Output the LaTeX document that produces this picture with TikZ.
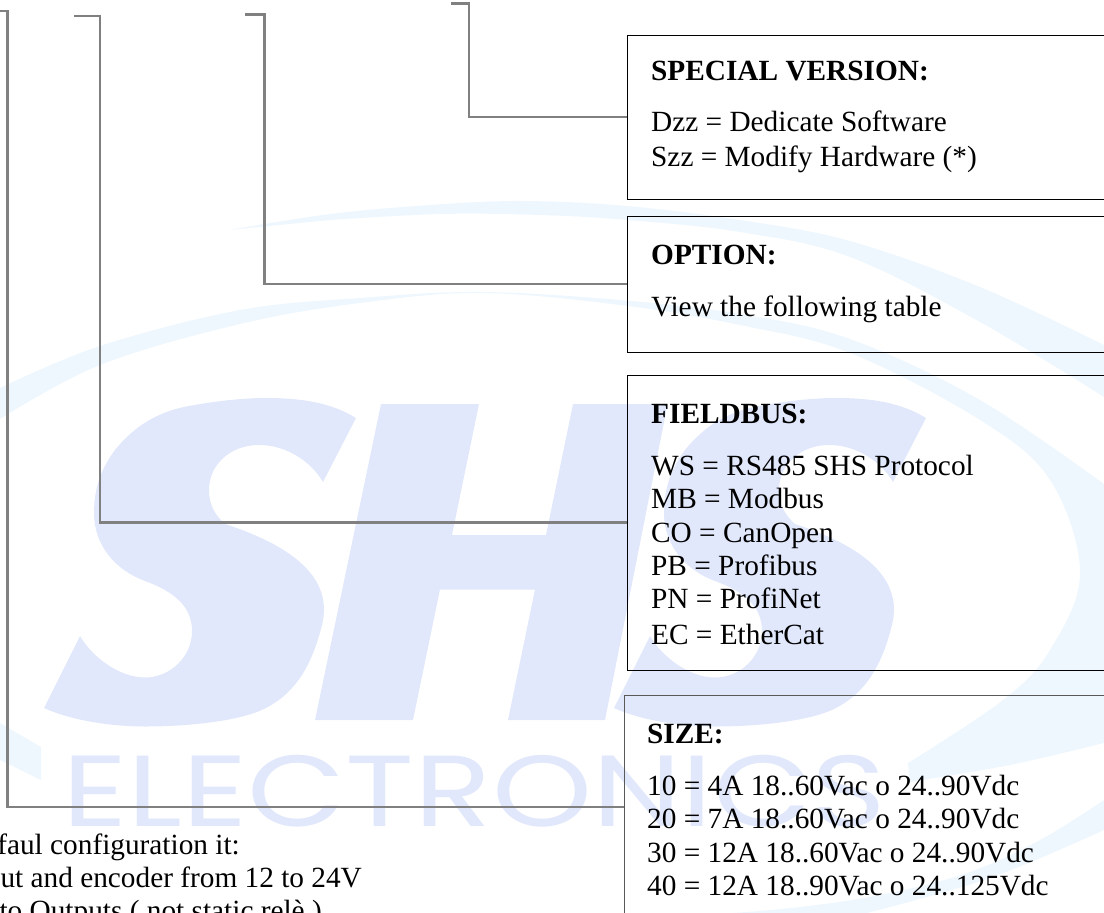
\documentclass[tikz,border=0pt]{standalone}
\usepackage{fontspec}
\setmainfont{Liberation Serif}
\newfontfamily\wmfont{Poppins}
\definecolor{wmblue}{HTML}{E1E8FB}
\definecolor{swoosh}{HTML}{EEF7FE}
\definecolor{conn}{HTML}{808080}
\newcommand{\shsLetterS}{(356,418) .. controls (330,402) and (300,398) .. (265,398)
 .. controls (240,398) and (210,402) .. (189,406)
 .. controls (160,411) and (135,425) .. (115,450)
 .. controls (100,470) and (94,490) .. (94,513)
 .. controls (94,545) and (115,570) .. (145,581)
 .. controls (175,592) and (192,607) .. (192,631)
 .. controls (192,657) and (170,677.5) .. (145,677.5)
 .. controls (120,677.5) and (93,658) .. (80,636)
 -- (44,708)
 .. controls (70,720) and (110,726.5) .. (145,726.5)
 .. controls (185,726.5) and (230,722) .. (257,712)
 .. controls (295,697) and (312,665) .. (322,625)
 .. controls (332,585) and (305,550) .. (225,524)
 .. controls (215,515) and (209,505) .. (209,490)
 .. controls (209,465) and (230,445) .. (259,445)
 .. controls (285,445) and (310,460) .. (323,482) -- cycle}
\tikzset{
  box/.style={draw=black,line width=1pt,anchor=north west,inner sep=0pt,minimum width=600pt},
  connector/.style={draw=conn,line width=2.2pt,line join=miter},
  head/.style={anchor=base west,inner sep=0pt,font=\fontsize{29.3}{33.6}\selectfont\bfseries},
  body/.style={anchor=north west,inner sep=0pt,align=left,font=\fontsize{29.3}{33.4}\selectfont},
  foot/.style={anchor=base east,inner sep=0pt,font=\fontsize{29.3}{33.6}\selectfont},
}
\begin{document}
\begin{tikzpicture}[x=1pt,y=-1pt]
\useasboundingbox (0,0) rectangle (1104,913);
\clip (0,0) rectangle (1104,913);
% watermark
\fill[swoosh] plot[smooth,tension=.6] coordinates {(229,230)(330,214)(430,205)(522,201)(627,206)(740,220)(850,241)(980,287)(1104,345)} -- (1104,397) -- plot[smooth,tension=.6] coordinates {(1104,397)(980,322)(850,257)(740,232)(627,220)(540,215)(442,214)(330,220)} -- cycle;
\fill[swoosh] plot[smooth,tension=.6] coordinates {(0,388)(100,346)(240,310)(360,298)(480,292)(620,300)(740,314)(850,339)(980,400)(1104,484)} -- (1150,600) -- plot[smooth,tension=.6] coordinates {(1104,743)(1010,765)(910,782)} -- plot[smooth,tension=.6] coordinates {(908,763)(1003,700)(1050,650)(1080,573)(1050,480)(980,420)(850,353)(740,325)(620,305)(480,293)(360,303)(240,324)(100,365)(0,419)} -- cycle;
\fill[swoosh] plot[smooth,tension=.6] coordinates {(1104,800)(1040,840)(967,873)(880,895)(800,907)(733,913)} -- (867,913) -- plot[smooth,tension=.6] coordinates {(867,913)(990,878)(1104,830)} -- cycle;
\fill[swoosh] (0,723) -- (41,747) -- (41,780) -- (0,760) -- cycle;
\fill[wmblue] \shsLetterS;
\fill[wmblue] (381,404) -- (479,404) -- (452,535) -- (546,535) -- (573,404) -- (667.6,404) -- (605,720) -- (508,720) -- (535,589.5) -- (440,589.5) -- (413,720) -- (315,720) -- cycle;
\begin{scope}[xshift=570pt]
\fill[wmblue] \shsLetterS;
\end{scope}
\node[anchor=base west,inner sep=0pt,text=wmblue,font=\wmfont\fontsize{101}{101}\selectfont] (wm) at (62,826) {\scalebox{1.26}[1]{ELECTRONICS}};
% boxes
\node[box,minimum height=164pt] (special) at (627,35) {};
\node[box,minimum height=136pt] (option) at (627,216) {};
\node[box,minimum height=295pt,line width=.8pt] (fieldbus) at (627,375) {};
\node[box,draw=black!65,line width=1.4pt,minimum height=400pt] (size) at (624,695) {};
% connectors
\coordinate (s4) at (451,3.5); \coordinate (k4) at (469,117);
\coordinate (s3) at (245,14.5); \coordinate (k3) at (264.5,284);
\coordinate (s2) at (74,15.7); \coordinate (k2) at (100,522.5);
\coordinate (s1) at (-5,10.7); \coordinate (k1) at (7.5,806.7);
\draw[connector] (s4) -| (k4) -- (special.west |- k4);
\draw[connector] (s3) -| (k3) -- (option.west |- k3);
\draw[connector] (s2) -| (k2) -- (fieldbus.west |- k2);
\draw[connector] (s1) -| (k1) -- (size.west |- k1);
% texts
\node[head] (t1) at (651,80) {SPECIAL VERSION:};
\node[body] (b1) at (651,107.5) {\rule{0pt}{24pt}Dzz = Dedicate Software\\[1.5pt]Szz = Modify Hardware (*)};
\node[head] (t2) at (651,264) {OPTION:};
\node[body] (b2) at (651,292) {\rule{0pt}{24pt}View the following table};
\node[head] (t3) at (651,423) {FIELDBUS:};
\node[body] (b3) at (651,451) {\rule{0pt}{24pt}WS = RS485 SHS Protocol\\MB = Modbus\\CO = CanOpen\\PB = Profibus\\PN = ProfiNet\\[2pt]EC = EtherCat};
\node[head] (t4) at (647,743) {SIZE:};
\node[body] (b4) at (647,771) {\rule{0pt}{24pt}10 = 4A 18..60Vac o 24..90Vdc\\20 = 7A 18..60Vac o 24..90Vdc\\30 = 12A 18..60Vac o 24..90Vdc\\40 = 12A 18..90Vac o 24..125Vdc};
\node[foot] (f1) at (240,854) {faul configuration it:};
\node[foot] (f2) at (362,887) {ut and encoder from 12 to 24V};
\node[foot] (f3) at (322,920) {to Outputs ( not static relè )};
\end{tikzpicture}
\end{document}
